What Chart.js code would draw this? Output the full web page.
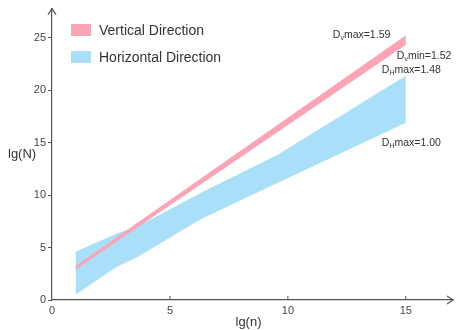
<!DOCTYPE html>
<html>
<head>
<meta charset="utf-8">
<script src="https://cdn.jsdelivr.net/npm/chart.js@4/dist/chart.umd.min.js"></script>
<style>
  html, body { margin: 0; padding: 0; background: #fff; }
  #wrap { width: 457px; height: 330px; }
</style>
</head>
<body>
<div id="wrap"><canvas id="lgChart"></canvas></div>
<script>
// values
var xTicks = [0, 5, 10, 15];
var yTicks = [0, 5, 10, 15, 20, 25];

var vertX = [1, 15];
var vertUpper = [3.2, 25.2];
var vertLower = [2.95, 24.4];

var horX = [1, 2.7, 3.7, 6.3, 9.6, 15];
var horUpper = [4.6, 6.3, 7.1, 10.2, 13.9, 21.4];
var horLower = [0.5, 3.1, 4.2, 7.7, 11.2, 16.9];

var legendNames = ['Vertical Direction', 'Horizontal Direction'];
var notes = [
    { sub: 'v', rest: 'max=1.59', x: 15, y: 25.2, dx: -73, dy: -1 },
    { sub: 'v', rest: 'min=1.52', x: 15, y: 24.4, dx: -9, dy: 12 },
    { sub: 'H', rest: 'max=1.48', x: 15, y: 21.4, dx: -24, dy: -6 },
    { sub: 'H', rest: 'max=1.00', x: 15, y: 16.9, dx: -24, dy: 20 }
];

var pink = '#fba4b6';
var blue = '#a9dff8';
var axisColor = '#555';
var textColor = '#444';

function pts(xs, ys) {
    return xs.map(function(x, i) { return { x: x, y: ys[i] }; });
}

var extras = {
    id: 'extras',
    afterDraw: function(chart) {
        var c = chart.ctx;
        var xs = chart.scales.x, ys = chart.scales.y;
        var area = chart.chartArea;
        c.save();
        c.strokeStyle = axisColor;
        c.lineWidth = 1.2;
        // arrows
        c.beginPath();
        c.moveTo(area.left - 4, area.top + 6);
        c.lineTo(area.left, area.top);
        c.lineTo(area.left + 4, area.top + 6);
        c.moveTo(area.right - 6, area.bottom - 4);
        c.lineTo(area.right, area.bottom);
        c.lineTo(area.right - 6, area.bottom + 4);
        c.stroke();
        // x ticks pointing inside
        c.lineWidth = 1;
        c.beginPath();
        xTicks.forEach(function(v) {
            if (v === 0) return;
            var px = xs.getPixelForValue(v);
            c.moveTo(px, area.bottom);
            c.lineTo(px, area.bottom - 4);
        });
        c.stroke();

        // axis titles
        c.fillStyle = '#333';
        c.font = '13px Arial, "Liberation Sans", sans-serif';
        c.textBaseline = 'middle';
        c.textAlign = 'left';
        c.fillText('lg(N)', 8, 154);
        c.textAlign = 'center';
        c.fillText('lg(n)', (area.left + area.right) / 2 - 4, 322);

        // legend
        var cols = [pink, blue];
        c.textAlign = 'left';
        c.font = '14px Arial, "Liberation Sans", sans-serif';
        legendNames.forEach(function(name, i) {
            var y = 30 + i * 27;
            c.fillStyle = cols[i];
            c.fillRect(71, y - 6, 20, 12);
            c.fillStyle = '#333';
            c.fillText(name, 99, y + 1);
        });

        // slope notes
        notes.forEach(function(n) {
            var px = xs.getPixelForValue(n.x) + n.dx;
            var py = ys.getPixelForValue(n.y) + n.dy;
            c.fillStyle = '#333';
            c.font = '10.5px Arial, "Liberation Sans", sans-serif';
            c.fillText('D', px, py);
            var w = c.measureText('D').width;
            c.font = '7px Arial, "Liberation Sans", sans-serif';
            c.fillText(n.sub, px + w, py + 3);
            var w2 = c.measureText(n.sub).width;
            c.font = '10.5px Arial, "Liberation Sans", sans-serif';
            c.fillText(n.rest, px + w + w2, py);
        });
        c.restore();
    }
};

new Chart(document.getElementById('lgChart'), {
    type: 'line',
    data: {
        datasets: [{
            data: pts(vertX, vertUpper),
            borderColor: pink,
            borderWidth: 1,
            backgroundColor: pink,
            fill: '+1',
            pointRadius: 0,
            tension: 0
        }, {
            data: pts(vertX, vertLower),
            borderColor: pink,
            borderWidth: 1,
            fill: false,
            pointRadius: 0,
            tension: 0
        }, {
            data: pts(horX, horUpper),
            borderColor: blue,
            borderWidth: 0,
            backgroundColor: blue,
            fill: '+1',
            pointRadius: 0,
            tension: 0
        }, {
            data: pts(horX, horLower),
            borderColor: blue,
            borderWidth: 0,
            fill: false,
            pointRadius: 0,
            tension: 0
        }]
    },
    options: {
        responsive: true,
        maintainAspectRatio: false,
        animation: false,
        layout: { padding: { left: 0, top: 5, right: 4, bottom: 0 } },
        plugins: {
            legend: { display: false },
            tooltip: { enabled: false }
        },
        scales: {
            x: {
                type: 'linear',
                min: 0,
                max: 17,
                afterBuildTicks: function(s) {
                    s.ticks = xTicks.map(function(v) { return { value: v }; });
                },
                afterFit: function(s) { s.height = 30; },
                grid: { display: false, drawTicks: false },
                border: { display: true, color: axisColor, width: 1.2 },
                ticks: {
                    padding: 4,
                    color: textColor,
                    font: { family: 'Arial, "Liberation Sans", sans-serif', size: 11 },
                    maxRotation: 0
                }
            },
            y: {
                type: 'linear',
                min: 0,
                max: 27.8,
                afterBuildTicks: function(s) {
                    s.ticks = yTicks.map(function(v) { return { value: v }; });
                },
                afterFit: function(s) { s.width = 52; },
                grid: { display: true, drawOnChartArea: false, drawTicks: true, tickLength: 4, color: axisColor },
                border: { display: true, color: axisColor, width: 1.2 },
                ticks: {
                    padding: 2,
                    color: textColor,
                    font: { family: 'Arial, "Liberation Sans", sans-serif', size: 11 }
                }
            }
        }
    },
    plugins: [extras]
});
</script>
</body>
</html>
